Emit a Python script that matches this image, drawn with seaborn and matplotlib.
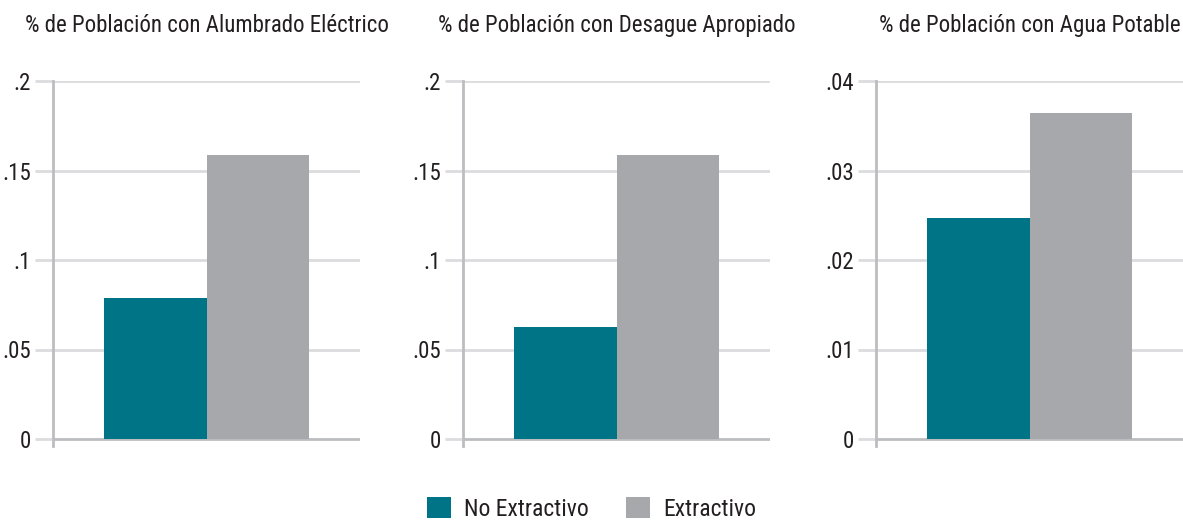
import matplotlib
matplotlib.use("Agg")
import matplotlib.pyplot as plt
from matplotlib import font_manager
from matplotlib.patches import Patch
import pandas as pd
import seaborn as sns

# Indicator panels and group values
titulos = [
    "% de Población con Alumbrado Eléctrico",
    "% de Población con Desague Apropiado",
    "% de Población con Agua Potable",
]
grupos = ["No Extractivo", "Extractivo"]
no_extractivo = [0.0788, 0.0626, 0.0247]
extractivo = [0.1587, 0.1587, 0.0364]
ymax = [0.2, 0.2, 0.04]
ticks = [[0, 0.05, 0.1, 0.15, 0.2], [0, 0.05, 0.1, 0.15, 0.2], [0, 0.01, 0.02, 0.03, 0.04]]
tick_labels = [["0", ".05", ".1", ".15", ".2"], ["0", ".05", ".1", ".15", ".2"],
               ["0", ".01", ".02", ".03", ".04"]]

colores = {"No Extractivo": "#007487", "Extractivo": "#a7a8ac"}
texto = "#231f20"
grid_c = "#dcdcde"
eje_c = "#bcbdc0"

sns.set_theme(style="white")
disponibles = {f.name for f in font_manager.fontManager.ttflist}
familia = ["DejaVu Sans"]
for nombre in ["Roboto Condensed", "Liberation Sans Narrow", "Open Sans Condensed",
               "Noto Sans Condensed", "DejaVu Sans Condensed"]:
    if nombre in disponibles:
        familia = [nombre, "DejaVu Sans"]
        break
plt.rcParams["font.family"] = familia

filas = []
for t, a, b in zip(titulos, no_extractivo, extractivo):
    filas.append({"panel": t, "cat": "", "grupo": grupos[0], "valor": a})
    filas.append({"panel": t, "cat": "", "grupo": grupos[1], "valor": b})
df = pd.DataFrame(filas)

W, H = 1183, 527
fig = plt.figure(figsize=(W / 100, H / 100), dpi=100)
lefts = [53, 463, 876]
ancho = 307
top_px, zero_px, bottom_px = 81, 439, 446

for i, t in enumerate(titulos):
    ax = fig.add_axes([lefts[i] / W, (H - bottom_px) / H, ancho / W, (bottom_px - top_px) / H])
    sub = df[df["panel"] == t]
    sns.barplot(data=sub, x="cat", y="valor", hue="grupo", hue_order=grupos,
                palette=colores, saturation=1, width=0.8, ax=ax, legend=False)
    for p in ax.patches:
        p.set_edgecolor("none")
    escala = ymax[i] / (zero_px - top_px)
    ax.set_ylim(-(bottom_px - zero_px) * escala, ymax[i])
    ax.set_xlim(-0.6, 0.6)
    ax.set_yticks(ticks[i])
    ax.set_yticklabels(tick_labels[i])
    ax.set_xticks([])
    ax.set_xlabel("")
    ax.set_ylabel("")
    for v in ticks[i]:
        ax.axhline(v, color=eje_c if v == 0 else grid_c, lw=2, zorder=0.5)
    for s in ["top", "right", "bottom"]:
        ax.spines[s].set_visible(False)
    ax.spines["left"].set_color(eje_c)
    ax.spines["left"].set_linewidth(2)
    ax.tick_params(axis="y", length=13, width=2, color=grid_c, pad=3,
                   labelsize=16.5, labelcolor=texto, left=True)
    ax.set_title(t, fontsize=16.5, color=texto, pad=35)

handles = [Patch(facecolor=colores[g], edgecolor="none", label=g) for g in grupos]
fig.legend(handles=handles, loc="lower center", bbox_to_anchor=(0.5, -0.028), ncol=2,
           frameon=False, fontsize=17, handlelength=1.0, handleheight=1.0,
           handletextpad=0.55, columnspacing=1.6, labelcolor=texto)

fig.savefig("out.png", dpi=100, facecolor="white")
